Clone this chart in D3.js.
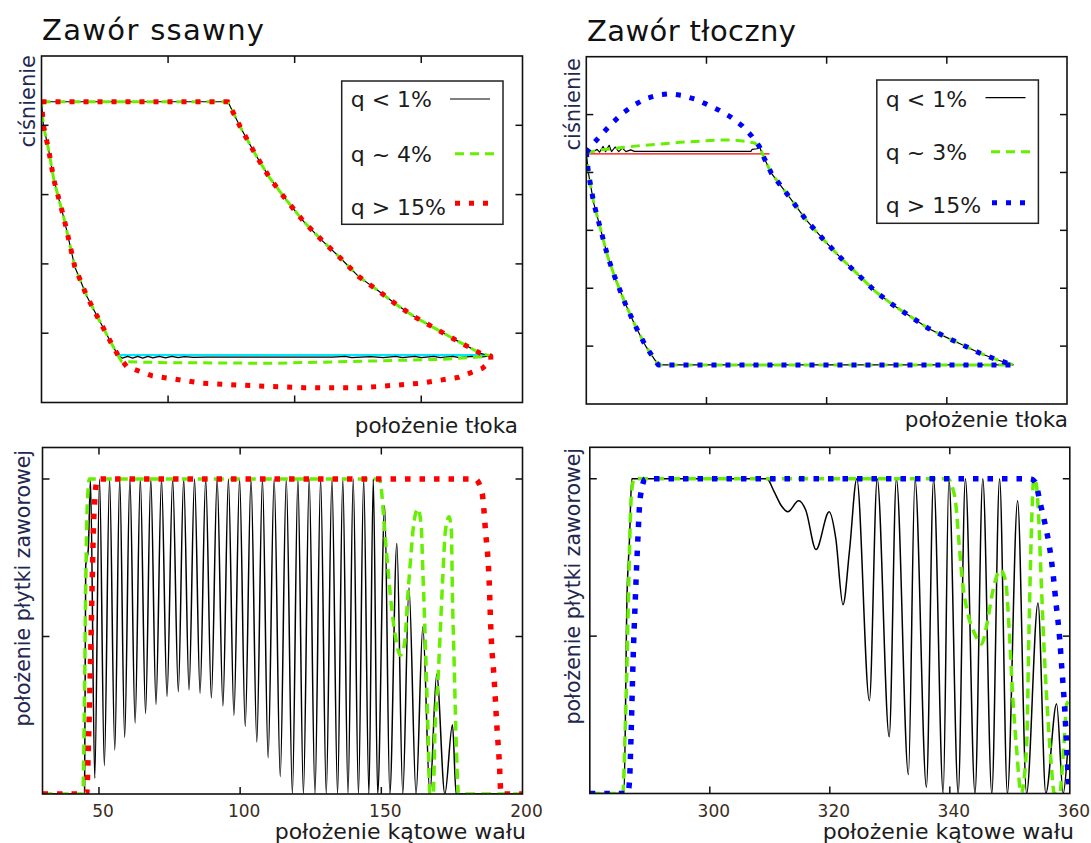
<!DOCTYPE html>
<html>
<head>
<meta charset="utf-8">
<script src="https://cdn.jsdelivr.net/npm/d3@7/dist/d3.min.js"></script>
<style>
  html, body { margin: 0; padding: 0; background: #fff; }
  svg text { font-family: "DejaVu Sans", Verdana, sans-serif; }
</style>
</head>
<body>
<svg id="chart" width="1091" height="843"></svg>
<script>
// ---------- titles and labels ----------
const panelTitles = ["Zawór ssawny", "Zawór tłoczny"];
const pressureLabel = "ciśnienie";
const pistonLabel = "położenie tłoka";
const plateLabel = "położenie płytki zaworowej";
const angleLabel = "położenie kątowe wału";
const suctionLegend = ["q < 1%", "q ~ 4%", "q > 15%"];
const deliveryLegend = ["q < 1%", "q ~ 3%", "q > 15%"];

// ---------- axis ticks ----------
const suctionPistonTicks = [1, 2, 3];
const suctionPressureTicks = [1, 2, 3, 4];
const deliveryPistonTicks = [1, 2, 3];
const deliveryPressureTicks = [1, 2, 3, 4, 5];
const plateTicks = [1, 2];
const suctionAngleTicks = [50, 100, 150, 200];
const deliveryAngleTicks = [300, 320, 340, 360];

// ---------- suction valve: p-V cycle ----------
const suctionTop = [[0, 4.34], [1.473, 4.34]];
const suctionExpansion = [
  [1.569, 3.98], [1.693, 3.57], [1.803, 3.24], [1.935, 2.92], [2.072, 2.61],
  [2.215, 2.34], [2.353, 2.10], [2.504, 1.82], [2.655, 1.62], [2.806, 1.41],
  [2.944, 1.24], [3.109, 1.07], [3.274, 0.90], [3.467, 0.71], [3.549, 0.671]
];
const suctionCompression = [
  [0.607, 0.671], [0.552, 0.854], [0.455, 1.19], [0.359, 1.53], [0.263, 1.96],
  [0.18, 2.64], [0.098, 3.21], [0.057, 3.64], [0.015, 4.0], [0, 4.34]
];
// lower (suction) line, listed left to right
const suctionBottomQ1 = [
  [0.607, 0.671], [0.64, 0.64], [0.68, 0.665], [0.72, 0.64], [0.76, 0.665], [0.80, 0.64],
  [0.84, 0.665], [0.88, 0.645], [0.93, 0.665], [0.98, 0.645], [1.03, 0.665], [1.08, 0.648],
  [1.13, 0.662], [1.2, 0.65], [1.3, 0.655], [2.3, 0.655], [2.4, 0.665], [2.45, 0.648],
  [2.6, 0.662], [2.7, 0.648], [2.8, 0.665], [2.85, 0.648], [2.95, 0.665], [3.0, 0.648],
  [3.1, 0.665], [3.15, 0.648], [3.25, 0.665], [3.3, 0.648], [3.4, 0.665], [3.45, 0.65],
  [3.549, 0.671]
];
const suctionBottomQ4 = [
  [0.607, 0.671], [0.634, 0.589], [1.0, 0.575], [1.83, 0.566], [2.62, 0.599],
  [3.15, 0.623], [3.45, 0.655], [3.549, 0.671]
];
const suctionBottomQ15 = [
  [0.607, 0.671], [0.674, 0.517], [0.872, 0.387], [1.272, 0.277], [1.715, 0.238],
  [2.071, 0.214], [2.533, 0.214], [2.994, 0.277], [3.297, 0.364], [3.483, 0.494],
  [3.55, 0.6], [3.549, 0.671]
];
const suctionReference = [[0.6, 0.685], [3.549, 0.685]];

// ---------- delivery valve: p-V cycle ----------
const deliveryExpansion = [
  [1.44, 4.45], [1.48, 4.25], [1.539, 3.99], [1.684, 3.59], [1.829, 3.18], [1.974, 2.84],
  [2.119, 2.52], [2.264, 2.23], [2.408, 1.94], [2.553, 1.71], [2.698, 1.51], [2.843, 1.31],
  [2.988, 1.16], [3.132, 1.02], [3.277, 0.877], [3.422, 0.761], [3.552, 0.675]
];
const deliveryBottom = [[3.552, 0.675], [0.598, 0.675]];
const deliveryCompression = [
  [0.598, 0.675], [0.497, 0.99], [0.41, 1.34], [0.323, 1.74], [0.236, 2.20],
  [0.178, 2.55], [0.12, 3.01], [0.062, 3.47], [0.018, 3.99], [0, 4.34]
];
const deliveryTopQ1 = [
  [0, 4.34], [0.05, 4.35], [0.09, 4.40], [0.11, 4.35], [0.14, 4.45], [0.16, 4.36],
  [0.19, 4.47], [0.21, 4.36], [0.24, 4.44], [0.27, 4.36], [0.30, 4.42], [0.33, 4.36],
  [0.37, 4.39], [0.40, 4.365], [1.37, 4.365], [1.38, 4.40], [1.42, 4.41]
];
const deliveryTopQ3 = [
  [0, 4.34], [0.12, 4.39], [0.30, 4.43], [0.45, 4.465], [0.61, 4.49], [0.78, 4.52],
  [0.94, 4.54], [1.1, 4.56], [1.2, 4.56], [1.28, 4.55], [1.35, 4.53], [1.40, 4.51]
];
const deliveryTopQ15 = [
  [0, 4.34], [0.05, 4.48], [0.12, 4.64], [0.2, 4.82], [0.3, 5.02], [0.4, 5.17],
  [0.5, 5.28], [0.6, 5.34], [0.7, 5.36], [0.8, 5.33], [0.9, 5.27], [1.0, 5.18],
  [1.1, 5.08], [1.2, 4.96], [1.3, 4.80], [1.38, 4.62]
];
const deliveryReference = [[0, 4.32], [1.525, 4.32]];

// ---------- valve plate lift vs. crank angle ----------
const suctionPlateQ1 = [
  [30, 0], [44.9, 0], [45.3, 1.45], [46.2, 1.55], [47.0, 2.0],
  [48.5, 0.10], [50.2, 2.0], [51.9, 0.18], [53.75, 2.0], [55.6, 0.28], [57.35, 2.0],
  [59.1, 0.36], [60.95, 2.0], [62.8, 0.45], [64.65, 2.0], [66.5, 0.51], [68.35, 2.0],
  [70.2, 0.57], [72.15, 2.0], [74.1, 0.62], [76.1, 2.0], [78.1, 0.65], [80.0, 2.0],
  [81.9, 0.66], [83.85, 2.0], [85.8, 0.64], [87.8, 2.0], [89.8, 0.61], [91.85, 2.0],
  [93.9, 0.56], [95.85, 2.0], [97.8, 0.50], [99.8, 2.0], [101.8, 0.43], [103.85, 2.0],
  [105.9, 0.33], [107.9, 2.0], [109.9, 0.23], [112.05, 2.0], [114.2, 0.11], [116.35, 2.0],
  [118.5, 0], [120.45, 2.0], [122.4, 0], [124.45, 2.0], [126.5, 0], [128.5, 2.0],
  [130.5, 0], [132.5, 2.0], [134.5, 0], [136.35, 2.0], [138.2, 0], [140.05, 2.0],
  [141.9, 0], [143.75, 2.0], [145.6, 0], [147.15, 2.0], [148.7, 0], [151.2, 1.83],
  [153.0, 0], [155.5, 1.59], [157.6, 0], [159.8, 1.31], [162.3, 0], [164.7, 1.06],
  [167.2, 0], [169.6, 0.76], [172.5, 0], [175.2, 0.44], [176.5, 0], [200, 0]
];
const suctionPlateQ4 = [
  [30, 0], [44.3, 0], [44.8, 0.5], [45.3, 1.3], [45.8, 1.8], [46.6, 2.0], [149.3, 2.0],
  [149.9, 1.95], [151.2, 1.67], [152.4, 1.42], [153.6, 1.19], [155.2, 0.98], [156.7, 0.88],
  [158.2, 0.95], [159.2, 1.21], [160.4, 1.50], [161.6, 1.73], [162.9, 1.81], [164.1, 1.71],
  [164.7, 1.42], [165.3, 1.12], [166.0, 0.72], [166.6, 0.36], [167.2, 0], [168.4, 0],
  [169.0, 0.40], [170.0, 0.70], [170.9, 1.04], [171.7, 1.35], [172.7, 1.67], [174.0, 1.76],
  [174.8, 1.67], [175.2, 1.25], [175.8, 0.83], [176.4, 0.40], [177.4, 0], [200, 0]
];
const suctionPlateQ15 = [
  [30, 0], [45.6, 0], [46.4, 0.40], [47.0, 0.83], [47.6, 1.35], [48.2, 1.77], [49.5, 2.0],
  [183.2, 2.0], [185.7, 1.91], [186.9, 1.67], [188.2, 1.35], [188.8, 1.04], [190.0, 0.72],
  [191.0, 0.41], [191.8, 0.20], [192.4, 0], [200, 0]
];
const deliveryPlateQ1 = [
  [280, 0], [285.7, 0], [286.2, 1.25], [286.6, 1.6], [287.0, 2.0], [309.5, 2.0],
  [310.7, 1.92], [311.9, 1.83], [313.0, 1.79], [314.8, 1.86], [316.0, 1.80], [317.7, 1.55],
  [319.9, 1.79], [321.0, 1.62], [322.2, 1.20], [323.3, 1.55], [324.5, 2.0], [326.6, 0.59],
  [327.9, 2.0], [329.9, 0.36], [331.1, 2.0], [333.1, 0.12], [334.2, 2.0], [336.1, 0.04],
  [337.3, 2.0], [338.9, 0], [339.85, 2.0], [341.4, 0], [342.6, 2.0], [344.2, 0],
  [345.5, 2.0], [347.0, 0], [348.3, 2.0], [349.6, 0], [351.3, 1.86], [352.8, 0],
  [354.7, 1.21], [356.0, 0], [357.8, 0.57], [358.9, 0], [359.6, 0.25]
];
const deliveryPlateQ3 = [
  [280, 0], [285.5, 0], [285.9, 0.41], [286.2, 0.83], [286.5, 1.35], [286.9, 1.88],
  [287.4, 2.0], [339.7, 2.0], [340.4, 1.95], [341.0, 1.84], [341.5, 1.61], [342.1, 1.35],
  [342.9, 1.16], [344.1, 1.02], [345.3, 0.95], [346.1, 1.06], [347.3, 1.31], [348.4, 1.42],
  [349.3, 1.35], [349.9, 1.04], [350.5, 0.61], [351.1, 0.30], [351.9, 0], [352.8, 0.30],
  [353.2, 1.04], [353.6, 1.67], [354.0, 2.0], [354.4, 1.97], [354.8, 1.76], [355.3, 1.29],
  [355.7, 0.93], [356.3, 0.51], [356.9, 0.19], [357.4, 0], [358.3, 0], [359.0, 0.30],
  [359.5, 0.57], [359.9, 0.59]
];
const deliveryPlateQ15 = [
  [280, 0], [286.3, 0], [286.6, 0.07], [286.9, 0.40], [287.2, 0.83], [287.6, 1.25],
  [288.0, 1.61], [288.4, 1.88], [289.3, 2.0], [353.4, 2.0], [354.2, 1.98], [355.1, 1.84],
  [356.0, 1.69], [356.6, 1.57], [357.2, 1.40], [357.7, 1.21], [358.3, 0.99], [358.7, 0.78],
  [359.1, 0.57], [359.4, 0.36], [359.7, 0.13], [360, 0]
];

// ---------- styles ----------
const black = { stroke: "#000", width: 1.2, dash: null };
const blackPlate = { stroke: "#000", width: 1.5, dash: null };
const green = { stroke: "#66f000", width: 3, dash: "9 6" };
const greenWide = { stroke: "#66f000", width: 3.5, dash: "10 6" };
const red = { stroke: "#ff0000", width: 5, dash: "5 9" };
const blue = { stroke: "#0000ff", width: 5, dash: "5 9" };
const textColor = "#1c1c1c";
const rotatedColor = "#1e2850";
const tickColor = "#3a2c1c";

const svg = d3.select("#chart");

// frame with inward ticks on all four sides
function makePanel(id, xDomain, yDomain, box, xTicks, yTicks) {
  const x = d3.scaleLinear().domain(xDomain).range([box.x0, box.x1]);
  const y = d3.scaleLinear().domain(yDomain).range([box.y1, box.y0]);
  const g = svg.append("g");
  svg.append("defs").append("clipPath").attr("id", id)
    .append("rect").attr("x", box.x0).attr("y", box.y0)
    .attr("width", box.x1 - box.x0).attr("height", box.y1 - box.y0);
  const plot = g.append("g").attr("clip-path", `url(#${id})`);
  const axes = g.append("g");
  const tl = 7;
  axes.selectAll(".xb").data(xTicks).join("line")
    .attr("x1", d => x(d)).attr("x2", d => x(d))
    .attr("y1", box.y1).attr("y2", box.y1 - tl);
  axes.selectAll(".xt").data(xTicks).join("line")
    .attr("x1", d => x(d)).attr("x2", d => x(d))
    .attr("y1", box.y0).attr("y2", box.y0 + tl);
  axes.selectAll(".yl").data(yTicks).join("line")
    .attr("x1", box.x0).attr("x2", box.x0 + tl)
    .attr("y1", d => y(d)).attr("y2", d => y(d));
  axes.selectAll(".yr").data(yTicks).join("line")
    .attr("x1", box.x1).attr("x2", box.x1 - tl)
    .attr("y1", d => y(d)).attr("y2", d => y(d));
  axes.selectAll("line").attr("stroke", "#111").attr("stroke-width", 1.5);
  axes.append("rect").attr("x", box.x0).attr("y", box.y0)
    .attr("width", box.x1 - box.x0).attr("height", box.y1 - box.y0)
    .attr("fill", "none").attr("stroke", "#111").attr("stroke-width", 1.6);
  return { x, y, plot, g };
}

function drawSeries(p, pts, st, curve) {
  const line = d3.line().x(d => p.x(d[0])).y(d => p.y(d[1])).curve(curve || d3.curveLinear);
  p.plot.append("path").attr("d", line(pts))
    .attr("fill", "none").attr("stroke", st.stroke).attr("stroke-width", st.width)
    .attr("stroke-dasharray", st.dash).attr("stroke-linejoin", "round");
}

function legend(box, labels, styles, rows) {
  const g = svg.append("g");
  g.append("rect").attr("x", box.x).attr("y", box.y).attr("width", box.w).attr("height", box.h)
    .attr("fill", "#fff").attr("stroke", "#222").attr("stroke-width", 1.5);
  labels.forEach((lab, i) => {
    g.append("text").attr("x", box.x + 9).attr("y", rows[i].base)
      .attr("font-size", 22).attr("fill", textColor).text(lab);
    g.append("line").attr("x1", rows[i].x1).attr("x2", rows[i].x2)
      .attr("y1", rows[i].ly).attr("y2", rows[i].ly)
      .attr("stroke", styles[i].stroke).attr("stroke-width", Math.min(styles[i].width, 5))
      .attr("stroke-dasharray", styles[i].dash);
  });
}

function rotatedLabel(txt, x, yTop, size) {
  svg.append("text").attr("transform", `translate(${x},${yTop}) rotate(-90)`)
    .attr("text-anchor", "end").attr("font-size", size).attr("fill", rotatedColor).text(txt);
}

function title(txt, x, y, len) {
  svg.append("text").attr("x", x).attr("y", y).attr("font-size", 29)
    .attr("textLength", len).attr("lengthAdjust", "spacing")
    .attr("fill", "#111").text(txt);
}

// ===== top left: suction valve pressure vs piston position =====
const pTL = makePanel("clipTL", [0, 3.8], [0, 5],
  { x0: 41.5, x1: 522.5, y0: 56, y1: 402.5 }, suctionPistonTicks, suctionPressureTicks);
const suctionCycle = bottom => suctionTop.concat(suctionExpansion, bottom.slice().reverse().slice(1), suctionCompression.slice(1));
drawSeries(pTL, suctionReference, { stroke: "#00e8ff", width: 2.2, dash: null });
drawSeries(pTL, suctionCycle(suctionBottomQ1), black);
drawSeries(pTL, suctionCycle(suctionBottomQ4), green);
drawSeries(pTL, suctionCycle(suctionBottomQ15), red);

// ===== top right: delivery valve pressure vs piston position =====
const pTR = makePanel("clipTR", [0, 4], [0, 6],
  { x0: 586.3, x1: 1067, y0: 56.7, y1: 404 }, deliveryPistonTicks, deliveryPressureTicks);
const deliveryCycle = top => top.concat(deliveryExpansion, deliveryBottom.slice(1), deliveryCompression.slice(1));
drawSeries(pTR, deliveryReference, { stroke: "#ff0000", width: 1.3, dash: null });
drawSeries(pTR, deliveryCycle(deliveryTopQ1), black);
drawSeries(pTR, deliveryCycle(deliveryTopQ3), green);
drawSeries(pTR, deliveryCycle(deliveryTopQ15), blue);

// ===== bottom left: suction plate lift =====
const pBL = makePanel("clipBL", [30, 200], [0, 2.2],
  { x0: 42.5, x1: 522.5, y0: 447.5, y1: 794 }, suctionAngleTicks.slice(0, 3), plateTicks);
drawSeries(pBL, suctionPlateQ1, blackPlate, d3.curveMonotoneX);
drawSeries(pBL, suctionPlateQ4, greenWide, d3.curveMonotoneX);
drawSeries(pBL, suctionPlateQ15, { stroke: "#ff0000", width: 5.5, dash: "5.5 9" }, d3.curveMonotoneX);

// ===== bottom right: delivery plate lift =====
const pBR = makePanel("clipBR", [280, 360], [0, 2.2],
  { x0: 589.8, x1: 1069.8, y0: 447.3, y1: 793.5 }, deliveryAngleTicks.slice(0, 3), plateTicks);
drawSeries(pBR, deliveryPlateQ1, blackPlate, d3.curveMonotoneX);
drawSeries(pBR, deliveryPlateQ3, greenWide, d3.curveMonotoneX);
drawSeries(pBR, deliveryPlateQ15, { stroke: "#0000ff", width: 5.5, dash: "5.5 9" }, d3.curveMonotoneX);

// tick labels on the crank-angle axes
[[pBL, suctionAngleTicks], [pBR, deliveryAngleTicks]].forEach(([p, ticks]) => {
  svg.append("g").selectAll("text").data(ticks).join("text")
    .attr("x", d => p.x(d) + 4).attr("y", 817).attr("text-anchor", "middle")
    .attr("font-size", 17).attr("fill", tickColor).text(d => d);
});

// titles
title(panelTitles[0], 42, 40, 222);
title(panelTitles[1], 587, 41, 209);

// axis titles
svg.append("text").attr("x", 518).attr("y", 433).attr("text-anchor", "end")
  .attr("font-size", 21.5).attr("fill", textColor).text(pistonLabel);
svg.append("text").attr("x", 1068).attr("y", 427).attr("text-anchor", "end")
  .attr("font-size", 21.5).attr("fill", textColor).text(pistonLabel);
svg.append("text").attr("x", 526).attr("y", 839).attr("text-anchor", "end")
  .attr("font-size", 22).attr("fill", textColor).text(angleLabel);
svg.append("text").attr("x", 1074).attr("y", 839).attr("text-anchor", "end")
  .attr("font-size", 22).attr("fill", textColor).text(angleLabel);
rotatedLabel(pressureLabel, 34.5, 55, 21);
rotatedLabel(pressureLabel, 580, 58, 21);
rotatedLabel(plateLabel, 30, 450, 20.5);
rotatedLabel(plateLabel, 580, 448, 20.5);

// legends
legend({ x: 341.7, y: 81, w: 161.3, h: 143.3 }, suctionLegend, [black, green, red], [
  { base: 107, ly: 99, x1: 450, x2: 490 },
  { base: 162, ly: 153.7, x1: 455, x2: 497 },
  { base: 214.5, ly: 203.3, x1: 455, x2: 492 }
]);
legend({ x: 876.8, y: 80, w: 161.6, h: 143.3 }, deliveryLegend, [black, green, blue], [
  { base: 106.7, ly: 97.7, x1: 985.5, x2: 1025.5 },
  { base: 160, ly: 151.7, x1: 991, x2: 1032.5 },
  { base: 213.3, ly: 202.7, x1: 992, x2: 1026 }
]);
</script>
</body>
</html>
